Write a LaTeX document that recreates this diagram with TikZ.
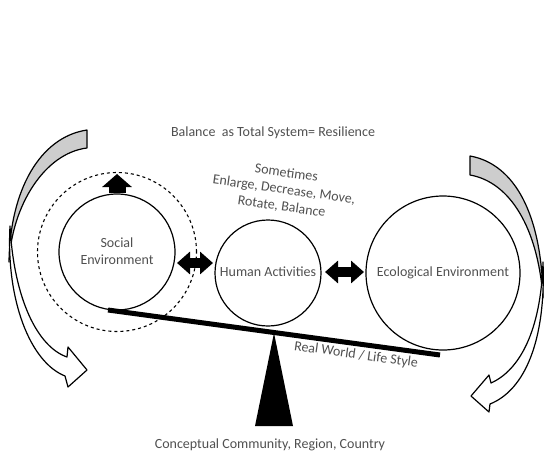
\documentclass[tikz,border=0pt]{standalone}
\usepackage{fontspec}
\setmainfont{Carlito}
\usetikzlibrary{arrows.meta}
\definecolor{txtgray}{RGB}{80,80,80}
\definecolor{bandgray}{RGB}{205,205,205}
\tikzset{
  ring/.style={circle, draw, line width=1.2pt, inner sep=0pt, align=center,
    font=\fontsize{14}{18}\selectfont, text=txtgray},
  dashring/.style={circle, draw, dashed, line width=1.1pt, inner sep=0pt},
  lbl/.style={inner sep=0pt, align=center, font=\fontsize{14}{17}\selectfont, text=txtgray},
  dblarr/.style={line width=10pt, {Triangle[length=13pt,width=22pt]}-{Triangle[length=13pt,width=22pt]}},
  uparr/.style={line width=17pt, -{Triangle[length=13pt,width=29pt]}},
  beam/.style={line width=5pt},
  band/.style={draw, line width=1.2pt, line join=round},
}
\begin{document}
\begin{tikzpicture}[x=1pt,y=-1pt]
\useasboundingbox (0,0) rectangle (544,456);

% left curved arrow: back band
\path[band, fill=bandgray] (87,130) .. controls (40,137) and (10,190) .. (9,262)
  .. controls (12,205) and (45,153) .. (87,148) -- cycle;
% left curved arrow: front band
\path[band, fill=white] (10,226) .. controls (6,300) and (30,362) .. (65,376)
  -- (68,387) -- (87,370) -- (68,347) -- (67,357)
  .. controls (38,347) and (14,300) .. (10,226) -- cycle;

% right curved arrow: back band
\path[band, fill=bandgray] (470,156) .. controls (515,164) and (542,215) .. (543,298)
  .. controls (538,228) and (510,182) .. (470,175) -- cycle;
% right curved arrow: front band
\path[band, fill=white] (543,262) .. controls (546,340) and (525,390) .. (490,404)
  -- (489,412) -- (471,396) -- (489,375) -- (491,383)
  .. controls (520,370) and (541,330) .. (543,262) -- cycle;

% circles
\node[dashring, minimum size=159pt] (dash) at (117,252) {};
\node[ring, minimum size=116pt] (soc) at (117,252) {\raisebox{-5pt}{\begin{tabular}{@{}c@{}}Social\\[-1pt]Environment\end{tabular}}};
\node[ring, minimum size=106pt] (hum) at (268,273) {\raisebox{2pt}{Human Activities}};
\node[ring, minimum size=154pt] (eco) at (443,273) {\raisebox{2pt}{Ecological Environment}};

% arrows between circles
\coordinate (la1) at (177,263);
\coordinate (la2) at (213,263);
\coordinate (ra1) at (325,272);
\coordinate (ra2) at (364,272);
\draw[dblarr] (la1) -- (la2);
\draw[dblarr] (ra1) -- (ra2);

% up arrow on social circle
\coordinate (uptip) at (117,174);
\draw[uparr] (soc.north) -- (uptip);

% beam and fulcrum
\coordinate (beamL) at (108,310);
\coordinate (beamR) at (440,355);
\draw[beam] (beamL) -- (beamR);
\fill (274,333) -- (255,426) -- (293,426) -- cycle;

% texts
\node[lbl] (title) at (273,133) {Balance\ \ as Total System= Resilience};
\node[lbl, rotate=-8] (some) at (284,190) {Sometimes\\Enlarge, Decrease, Move,\\Rotate, Balance};
\node[lbl, rotate=-8] (real) at (356,355) {Real World / Life Style};
\node[lbl] (concept) at (270,445) {Conceptual Community, Region, Country};
\end{tikzpicture}
\end{document}
